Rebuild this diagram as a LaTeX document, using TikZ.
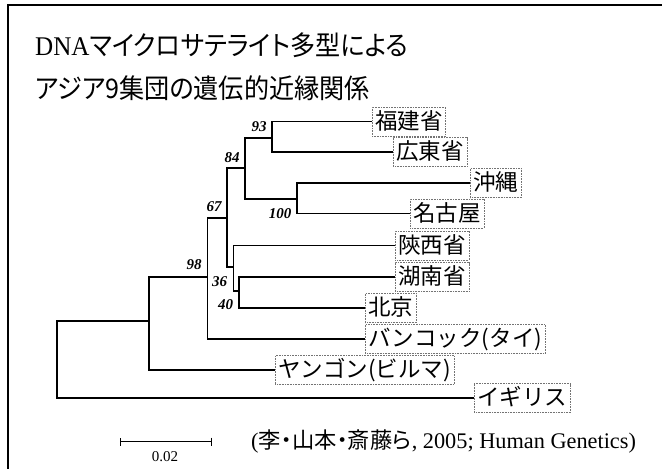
\documentclass[tikz,border=0pt]{standalone}
\usepackage{fontspec}
\setmainfont{Liberation Serif}
\newfontfamily\jp{Noto Sans CJK JP}
\newfontfamily\jpp[RawFeature=+palt]{Noto Sans CJK JP}
\usetikzlibrary{arrows.meta}
\begin{document}
\begin{tikzpicture}[x=1pt,y=-1pt,
  branch/.style={line width=1.15pt, black},
  leaf/.style={draw=black!55, densely dotted, line width=0.6pt, anchor=west,
    font=\jp\fontsize{22.5}{22.5}\selectfont, inner xsep=3pt, inner ysep=0pt,
    minimum height=29pt, text height=18pt, text depth=3pt},
  boot/.style={font=\bfseries\itshape\fontsize{15}{15}\selectfont, inner sep=0pt},
  title/.style={anchor=west, inner sep=0pt, font=\fontsize{27}{27}\selectfont}]
\useasboundingbox (0,0) rectangle (662,469);
\fill[white] (0,0) rectangle (662,469);
% frame
\draw[line width=1.4pt] (8,469) -- (8,5) -- (662,5);
% title
\node[title] (t1) at (35,45) {\scalebox{0.93}[1]{DNA{\jpp マイクロサテライト多型による}}};
\node[title] (t2) at (35,88) {\scalebox{0.93}[1]{\jpp アジア9集団の遺伝的近縁関係}};
% leaves
\node[leaf] (fj) at (371.7,121.7) {福建省};
\node[leaf] (gd) at (393,152) {広東省};
\node[leaf] (ok) at (470,183) {沖縄};
\node[leaf] (ng) at (410,213.5) {名古屋};
\node[leaf] (sx) at (395,245.5) {陝西省};
\node[leaf] (hn) at (395,277) {湖南省};
\node[leaf] (bj) at (365,308) {北京};
\node[leaf] (bk) at (365,339) {バンコック(タイ)};
\node[leaf] (yg) at (275,370) {ヤンゴン(ビルマ)};
\node[leaf] (uk) at (474,398) {イギリス};
% internal nodes
\coordinate (n93) at (272,138);
\coordinate (n100) at (297,199);
\coordinate (n84) at (245,168);
\coordinate (n40) at (239,291);
\coordinate (n36) at (233.5,267);
\coordinate (nA) at (227,218);
\coordinate (n67) at (207.5,277);
\coordinate (n98) at (149,321);
\coordinate (root) at (57,360);
% branches
\draw[branch] (n93) |- (fj.west);
\draw[branch] (n93) |- (gd.west);
\draw[branch] (n100) |- (ok.west);
\draw[branch] (n100) |- (ng.west);
\draw[branch] (n84) |- (n93);
\draw[branch] (n84) |- (n100);
\draw[branch] (n40) |- (hn.west);
\draw[branch] (n40) |- (bj.west);
\draw[branch] (n36) |- (sx.west);
\draw[branch] (n36) |- (n40);
\draw[branch] (nA) |- (n84);
\draw[branch] (nA) |- (n36);
\draw[branch] (n67) |- (nA);
\draw[branch] (n67) |- (bk.west);
\draw[branch] (n98) |- (n67);
\draw[branch] (n98) |- (yg.west);
\draw[branch] (root) |- (n98);
\draw[branch] (root) |- (uk.west);
% bootstrap values
\node[boot] (b93) at (259,127) {93};
\node[boot] (b84) at (232,158) {84};
\node[boot] (b67) at (214,207) {67};
\node[boot] (b100) at (280,214) {100};
\node[boot] (b98) at (194,265) {98};
\node[boot] (b36) at (219.5,282) {36};
\node[boot] (b40) at (225.5,304.5) {40};
% scale bar
\coordinate (sbL) at (120,441.7);
\coordinate (sbR) at (211.7,441.7);
\draw[line width=0.9pt, {Bar[width=8pt]}-{Bar[width=8pt]}] (sbL) -- (sbR);
\node[inner sep=0pt, font=\fontsize{15}{15}\selectfont] (sblab) at (165,457) {0.02};
% citation
\node[anchor=west, inner sep=0pt, font=\fontsize{22.3}{22.3}\selectfont] (cite) at (251,441.7)
  {({\jpp 李・山本・斎藤ら}, 2005; Human Genetics)};
\end{tikzpicture}
\end{document}
